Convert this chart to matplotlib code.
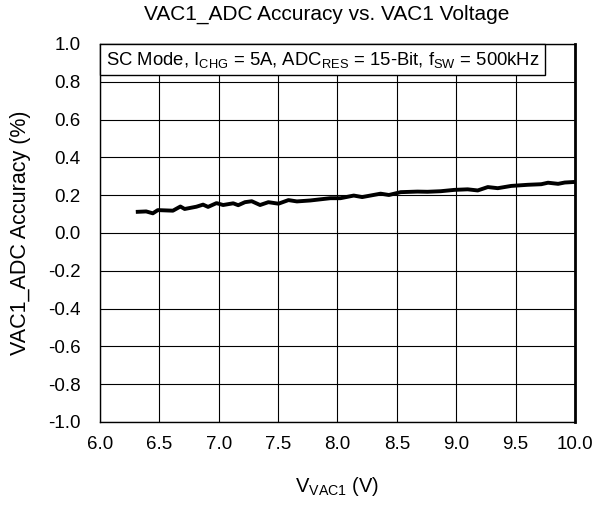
import matplotlib.pyplot as plt

plt.rcParams['font.family'] = ['Liberation Sans', 'DejaVu Sans']

# VAC1 voltage (V) and ADC accuracy (%)
v_vac1 = [6.318, 6.389, 6.445, 6.487, 6.614, 6.677, 6.713, 6.812, 6.868, 6.910,
          6.981, 7.037, 7.122, 7.164, 7.221, 7.278, 7.348, 7.418, 7.503, 7.587,
          7.658, 7.771, 7.855, 7.940, 8.025, 8.137, 8.208, 8.363, 8.433, 8.532,
          8.673, 8.758, 8.870, 8.983, 9.096, 9.181, 9.266, 9.350, 9.463, 9.604,
          9.716, 9.773, 9.858, 9.914, 9.998]
accuracy = [0.112, 0.114, 0.104, 0.121, 0.118, 0.140, 0.127, 0.139, 0.150, 0.138,
            0.158, 0.148, 0.157, 0.147, 0.163, 0.168, 0.148, 0.163, 0.155, 0.174,
            0.167, 0.172, 0.178, 0.184, 0.184, 0.198, 0.190, 0.208, 0.201, 0.216,
            0.219, 0.218, 0.221, 0.228, 0.231, 0.225, 0.243, 0.237, 0.249, 0.255,
            0.258, 0.266, 0.260, 0.267, 0.270]

xticks = [6.0, 6.5, 7.0, 7.5, 8.0, 8.5, 9.0, 9.5, 10.0]
yticks = [-1.0, -0.8, -0.6, -0.4, -0.2, 0.0, 0.2, 0.4, 0.6, 0.8, 1.0]
xtick_labels = ['6.0', '6.5', '7.0', '7.5', '8.0', '8.5', '9.0', '9.5', '10.0']
ytick_labels = ['-1.0', '-0.8', '-0.6', '-0.4', '-0.2', '0.0', '0.2', '0.4', '0.6', '0.8', '1.0']

fig = plt.figure(figsize=(5.97, 5.05), dpi=100)
ax = fig.add_axes([0.1675, 0.1644, 0.7956, 0.7485])

ax.plot(v_vac1, accuracy, color='black', linewidth=2.8, solid_joinstyle='round')

ax.set_xlim(6.0, 10.0)
ax.set_ylim(-1.0, 1.0)
ax.set_xticks(xticks)
ax.set_yticks(yticks)
ax.set_xticklabels(xtick_labels)
ax.set_yticklabels(ytick_labels)
ax.tick_params(length=0, labelsize=13.5)
ax.tick_params(axis='y', pad=14)
ax.tick_params(axis='x', pad=10)
ax.grid(True, color='black', linewidth=0.8)
for s in ax.spines.values():
    s.set_linewidth(1.0)
ax.spines['right'].set_linewidth(2.0)

ax.set_xlabel(r'V$_{\mathregular{VAC1}}$ (V)', fontsize=14.5, labelpad=16)
ax.set_ylabel('VAC1_ADC Accuracy (%)', fontsize=15.5, labelpad=12)
fig.text(0.548, 0.972, 'VAC1_ADC Accuracy vs. VAC1 Voltage', fontsize=15,
         ha='center', va='center')

pad = 0.3
fs = 13.3
ax.annotate(r'SC Mode, I$_{\mathregular{CHG}}$ = 5A, ADC$_{\mathregular{RES}}$ = 15-Bit, '
            r'f$_{\mathregular{SW}}$ = 500kHz',
            xy=(0, 1), xycoords='axes fraction',
            xytext=(pad * fs, -pad * fs), textcoords='offset points',
            fontsize=fs, ha='left', va='top', zorder=5,
            bbox=dict(boxstyle=f'square,pad={pad}', facecolor='white',
                      edgecolor='black', linewidth=1.0))

fig.savefig('out.png', dpi=100)
